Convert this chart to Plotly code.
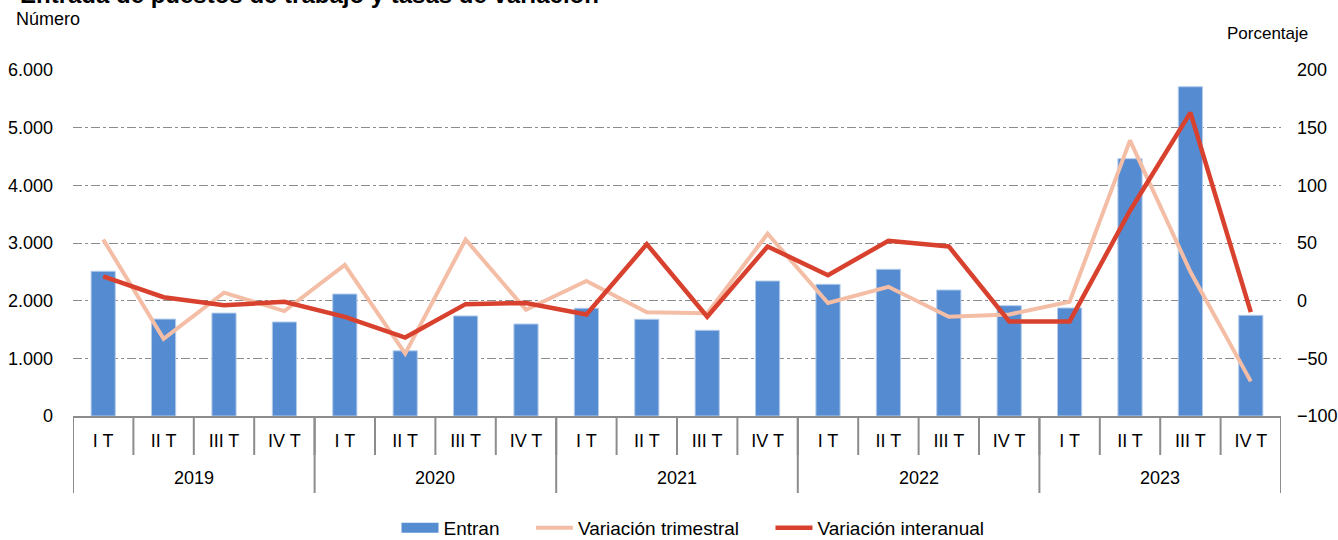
import plotly.graph_objects as go

years = ["2019"] * 4 + ["2020"] * 4 + ["2021"] * 4 + ["2022"] * 4 + ["2023"] * 4
quarters = ["I T", "II T", "III T", "IV T"] * 5

entran = [2510, 1680, 1785, 1630, 2115, 1130, 1735, 1595,
          1868, 1677, 1486, 2341, 2284, 2544, 2185, 1913,
          1873, 4462, 5710, 1746]
var_trimestral = [53, -33, 7, -9, 31, -46, 53, -8,
                  17, -10, -11, 58, -2, 12, -14, -12,
                  -1, 139, 25, -70]
var_interanual = [21, 3, -4, -1, -14, -32, -3, -2,
                  -12, 49, -14, 47, 22, 52, 47, -18,
                  -18, 78, 163, -10]

left_ticks = [0, 1000, 2000, 3000, 4000, 5000, 6000]
left_labels = ["0", "1.000", "2.000", "3.000", "4.000", "5.000", "6.000"]
right_ticks = [-100, -50, 0, 50, 100, 150, 200]

cats = [f"{y} {q}" for y, q in zip(years, quarters)]
n = len(cats)
font = "Liberation Sans, Arial, sans-serif"
axis_grey = "#8C8C8C"
pad = "&nbsp;" * 5

fig = go.Figure()
fig.add_trace(go.Bar(x=cats, y=entran, name="Entran", showlegend=False,
                     marker=dict(color="#558BD1", line=dict(color="#B3CBEA", width=1)), width=0.4))
# legend proxy for bars (wide rectangle swatch as in the reference)
fig.add_trace(go.Scatter(x=[None], y=[None], name="Entran" + pad, mode="lines",
                         line=dict(color="#558BD1", width=10)))
fig.add_trace(go.Scatter(x=cats, y=var_trimestral, name="Variación trimestral" + pad, yaxis="y2",
                         mode="lines", line=dict(color="#F4BEA6", width=4)))
fig.add_trace(go.Scatter(x=cats, y=var_interanual, name="Variación interanual", yaxis="y2", mode="lines",
                         line=dict(color="#D9412F", width=4.5)))

plot_w = 1338 - 73 - 57
plot_h = 540 - 70 - 124
quarter_len = 39 / plot_h
year_len = 77 / plot_h

shapes = []
for i in range(n + 1):
    shapes.append(dict(type="line", xref="x", yref="paper", x0=i - 0.5, x1=i - 0.5, y0=0, y1=-quarter_len,
                       line=dict(color=axis_grey, width=2)))
bounds = [0] + [i for i in range(1, n) if years[i] != years[i - 1]] + [n]
for b in bounds:
    shapes.append(dict(type="line", xref="x", yref="paper", x0=b - 0.5, x1=b - 0.5, y0=0, y1=-year_len,
                       line=dict(color=axis_grey, width=2)))

annotations = []
for a, b in zip(bounds[:-1], bounds[1:]):
    annotations.append(dict(text=years[a], xref="x", yref="paper", x=(a + b - 1) / 2, y=-62 / plot_h,
                            xanchor="center", yanchor="middle", showarrow=False, font=dict(size=18)))

annotations += [
    dict(text="<b>Entrada de puestos de trabajo y tasas de variación</b>", xref="paper", yref="paper",
         x=0, xshift=-55, y=1, yshift=76, xanchor="left", yanchor="middle", showarrow=False,
         font=dict(size=24)),
    dict(text="Número", xref="paper", yref="paper", x=0, xshift=-59, y=1, yshift=51,
         xanchor="left", yanchor="middle", showarrow=False, font=dict(size=18)),
    dict(text="Porcentaje", xref="paper", yref="paper", x=1, xshift=29, y=1, yshift=37,
         xanchor="right", yanchor="middle", showarrow=False, font=dict(size=17)),
]

fig.update_layout(
    width=1338, height=540,
    margin=dict(l=73, r=57, t=70, b=124, autoexpand=False),
    paper_bgcolor="white", plot_bgcolor="white",
    font=dict(family=font, size=18, color="#000000"),
    showlegend=True,
    legend=dict(orientation="h", x=0.5 + 16 / plot_w, xanchor="center", yref="paper", y=-112 / plot_h,
                yanchor="middle", font=dict(size=19), traceorder="normal", itemwidth=37),
    xaxis=dict(type="category", categoryorder="array", categoryarray=cats, tickvals=cats, ticktext=quarters,
               showline=True, linecolor=axis_grey, linewidth=2, ticks="", tickangle=0,
               ticklabelstandoff=7, showgrid=False, automargin=False, range=[-0.5, n - 0.5]),
    yaxis=dict(range=[0, 6000], tickvals=left_ticks, ticktext=left_labels, showgrid=True,
               gridcolor=axis_grey, griddash="dashdot", gridwidth=1, zeroline=False,
               ticks="", ticklabelstandoff=19, automargin=False),
    yaxis2=dict(range=[-100, 200], tickvals=right_ticks, overlaying="y", side="right", showgrid=False,
                zeroline=False, ticks="", ticklabelstandoff=15, automargin=False),
    shapes=shapes,
    annotations=annotations,
)

fig.write_html("out.html", config={"displayModeBar": False},
               post_script="document.body.style.margin='0';")
